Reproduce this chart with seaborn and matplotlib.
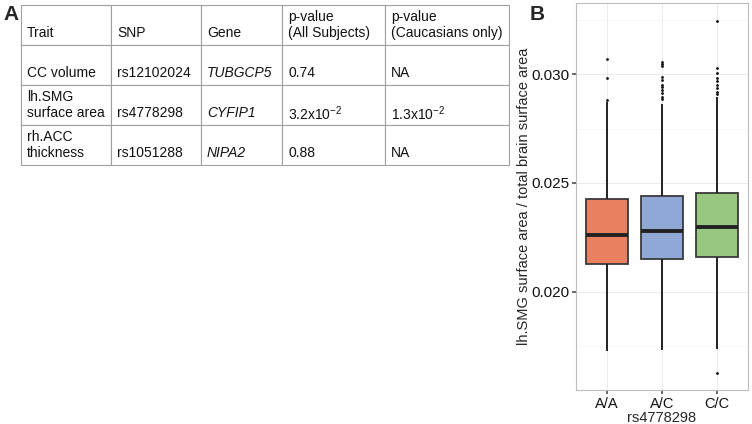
import matplotlib
matplotlib.use("Agg")
import matplotlib.pyplot as plt
from matplotlib.ticker import MultipleLocator
import seaborn as sns
import pandas as pd

# ---------------- data ----------------
table_header = ["Trait", "SNP", "Gene", "p-value\n(All Subjects)", "p-value\n(Caucasians only)"]
traits = ["CC volume", "lh.SMG\nsurface area", "rh.ACC\nthickness"]
snps = ["rs12102024", "rs4778298", "rs1051288"]
genes = ["TUBGCP5", "CYFIP1", "NIPA2"]
p_all = ["0.74", "3.2x10$^{-2}$", "0.88"]
p_cauc = ["NA", "1.3x10$^{-2}$", "NA"]

genotypes = ["A/A", "A/C", "C/C"]
whisker_low = [0.01730, 0.01734, 0.01739]
q1 = [0.02130, 0.02151, 0.02159]
median = [0.02263, 0.02281, 0.02300]
q3 = [0.02427, 0.02440, 0.02456]
whisker_high = [0.02870, 0.02861, 0.02893]
outliers_AA = [0.02882, 0.02983, 0.03067]
outliers_AC = [0.02884, 0.02896, 0.02911, 0.02927, 0.02939, 0.02950,
               0.02972, 0.02988, 0.03037, 0.03046, 0.03055]
outliers_CC = [0.01630, 0.02908, 0.02919, 0.02934, 0.02950, 0.02969,
               0.02983, 0.03006, 0.03029, 0.03243]
box_colors = ["#E9805F", "#8FA8D6", "#98C880"]

# Build a value table whose quartiles / whiskers equal the values read above
outlier_lists = [outliers_AA, outliers_AC, outliers_CC]
rows = []
for i, g in enumerate(genotypes):
    vals = [whisker_low[i]] + [q1[i]] * 50 + [median[i]] * 50 + [q3[i]] * 50 \
        + [whisker_high[i]] + outlier_lists[i]
    rows += [(g, v) for v in vals]
df = pd.DataFrame(rows, columns=["genotype", "ratio"])

# ---------------- style ----------------
sns.set_theme(style="whitegrid")
plt.rcParams["font.family"] = ["Liberation Sans", "DejaVu Sans"]
plt.rcParams["mathtext.fontset"] = "custom"
plt.rcParams["mathtext.rm"] = "Liberation Sans"
plt.rcParams["mathtext.default"] = "regular"

W, H = 752, 424
fig = plt.figure(figsize=(W / 100, H / 100), dpi=100)


def px_axes(x0, y0, x1, y1):
    return fig.add_axes([x0 / W, 1 - y1 / H, (x1 - x0) / W, (y1 - y0) / H])


# ---------------- panel A: table ----------------
axA = px_axes(21, 5, 509, 165)
axA.axis("off")
col_px = [90, 90, 81, 103, 124]
tot = sum(col_px)
cell_text = []
for i in range(len(traits)):
    t = traits[i] if "\n" in traits[i] else "\n" + traits[i]
    cell_text.append([t, "\n" + snps[i], "\n" + genes[i], "\n" + p_all[i], "\n" + p_cauc[i]])
header = [h if "\n" in h else "\n" + h for h in table_header]
tbl = axA.table(cellText=[header] + cell_text, colWidths=[c / tot for c in col_px],
                cellLoc="left", bbox=[0, 0, 1, 1])
tbl.auto_set_font_size(False)
for (r, c), cell in tbl.get_celld().items():
    cell.set_edgecolor("#A0A0A0")
    cell.set_linewidth(0.8)
    cell.set_facecolor("white")
    cell.PAD = 6 / col_px[c]
    txt = cell.get_text()
    txt.set_fontsize(10)
    txt.set_color("#111111")
    if c == 2 and r > 0:
        txt.set_fontstyle("italic")

fig.text(3 / W, 1 - 5 / H, "A", fontsize=15, fontweight="bold", va="top", ha="left")

# ---------------- panel B: boxplot ----------------
axB = px_axes(576, 3, 748, 390)
sns.boxplot(data=df, x="genotype", y="ratio", hue="genotype", order=genotypes,
            palette=box_colors, saturation=1, width=0.76, legend=False,
            linewidth=1.3, linecolor="#3A3A3A", showcaps=False,
            medianprops=dict(color="#222222", linewidth=2.8),
            whiskerprops=dict(color="#222222", linewidth=1.4),
            flierprops=dict(marker="o", markersize=1.0, markerfacecolor="#111111",
                            markeredgecolor="#111111"),
            ax=axB)
axB.set_xlim(-0.56, 2.56)
axB.set_ylim(0.0155, 0.03326)
axB.yaxis.set_major_locator(MultipleLocator(0.005))
axB.yaxis.set_minor_locator(MultipleLocator(0.0025))
axB.yaxis.set_major_formatter(matplotlib.ticker.FormatStrFormatter("%.3f"))
axB.grid(True, which="major", color="#EBEBEB", linewidth=0.7)
axB.grid(True, which="minor", axis="y", color="#F4F4F4", linewidth=0.5)
axB.set_axisbelow(True)
for s in axB.spines.values():
    s.set_color("#BDBDBD")
    s.set_linewidth(0.8)
axB.tick_params(axis="both", which="major", length=3, color="#555555",
                labelsize=10.5, labelcolor="#111111", left=True, bottom=True, pad=2)
axB.tick_params(axis="y", which="major", labelsize=11)
axB.tick_params(axis="y", which="minor", length=0)
axB.set_xlabel("rs4778298", fontsize=10.5, labelpad=0)
axB.set_ylabel("lh.SMG surface area / total brain surface area", fontsize=10.5, labelpad=0)

fig.text(530 / W, 1 - 5 / H, "B", fontsize=15, fontweight="bold", va="top", ha="left")

fig.savefig("out.png", dpi=100)
